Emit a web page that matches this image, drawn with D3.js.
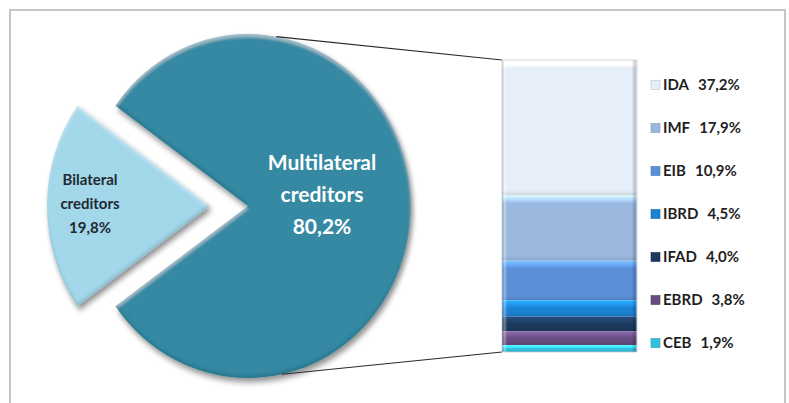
<!DOCTYPE html>
<html>
<head>
<meta charset="utf-8">
<script src="https://cdn.jsdelivr.net/npm/d3@7/dist/d3.min.js"></script>
<style>
  html, body { margin: 0; padding: 0; background: #ffffff; }
  svg { display: block; }
</style>
</head>
<body>
<svg id="chart" width="789" height="403"></svg>
<script>
// ---- data ----
const pieCategories = ["Multilateral creditors", "Bilateral creditors"];
const pieValues = [80.2, 19.8];
const barCategories = ["IDA", "IMF", "EIB", "IBRD", "IFAD", "EBRD", "CEB"];
const barValues = [37.2, 17.9, 10.9, 4.5, 4.0, 3.8, 1.9];

// ---- styles ----
const pieColors = ["#3589a3", "#a3d7ea"];
const barColors = ["#e6eff9", "#9bb9df", "#5b90d9", "#1c82d3", "#1d3a5e", "#664c80", "#33c0de"];

const fmt = v => v.toFixed(1).replace(".", ",") + "%";

const svg = d3.select("#chart");
const defs = svg.append("defs");

// frame
svg.append("rect").attr("x", 10).attr("y", 10).attr("width", 775).attr("height", 420)
  .attr("fill", "none").attr("stroke", "#c6c6c6").attr("stroke-width", 2);

// filters
const ds = defs.append("filter").attr("id", "shadow").attr("x", "-20%").attr("y", "-20%").attr("width", "140%").attr("height", "140%");
ds.append("feGaussianBlur").attr("in", "SourceAlpha").attr("stdDeviation", 3).attr("result", "b");
ds.append("feOffset").attr("in", "b").attr("dx", 2).attr("dy", 4).attr("result", "o");
ds.append("feComponentTransfer").attr("in", "o").attr("result", "o2")
  .append("feFuncA").attr("type", "linear").attr("slope", 0.45);
ds.append("feOffset").attr("in", "SourceAlpha").attr("dx", 0).attr("dy", 3).attr("result", "so");
ds.append("feGaussianBlur").attr("in", "so").attr("stdDeviation", 1.5).attr("result", "sob");
ds.append("feComposite").attr("in", "SourceAlpha").attr("in2", "sob").attr("operator", "out").attr("result", "rim");
ds.append("feFlood").attr("flood-color", "#ffffff").attr("flood-opacity", 0.35).attr("result", "wf");
ds.append("feComposite").attr("in", "wf").attr("in2", "rim").attr("operator", "in").attr("result", "hl");
ds.append("feOffset").attr("in", "SourceAlpha").attr("dx", 0).attr("dy", -3).attr("result", "so2");
ds.append("feGaussianBlur").attr("in", "so2").attr("stdDeviation", 1.5).attr("result", "sob2");
ds.append("feComposite").attr("in", "SourceAlpha").attr("in2", "sob2").attr("operator", "out").attr("result", "rim2");
ds.append("feFlood").attr("flood-color", "#000000").attr("flood-opacity", 0.25).attr("result", "bf");
ds.append("feComposite").attr("in", "bf").attr("in2", "rim2").attr("operator", "in").attr("result", "dk");
const m = ds.append("feMerge");
m.append("feMergeNode").attr("in", "o2");
m.append("feMergeNode").attr("in", "SourceGraphic");
m.append("feMergeNode").attr("in", "hl");
m.append("feMergeNode").attr("in", "dk");

// ---- pie ----
const cx = 248, cy = 206, ry = 172, rx = 163, explode = 38;
const halfBil = Math.PI * pieValues[1] / 100;
const pie = d3.pie().sort(null).value(d => d)
  .startAngle(-Math.PI / 2 + halfBil).endAngle(-Math.PI / 2 + halfBil + 2 * Math.PI);
const arcs = pie(pieValues);
const arc = d3.arc().innerRadius(0).outerRadius(ry);

arcs.forEach((a, i) => {
  const mid = (a.startAngle + a.endAngle) / 2;
  const off = i === 1 ? explode : 0;
  const dx = off * Math.sin(mid), dy = -off * Math.cos(mid);
  svg.append("path")
    .attr("d", arc(a))
    .attr("transform", `translate(${cx + dx},${cy + dy}) scale(${rx / ry},1)`)
    .attr("fill", pieColors[i])
    .attr("filter", "url(#shadow)");
});

// pie labels
const multiLines = ["Multilateral", "creditors", fmt(pieValues[0])];
const bilLines = ["Bilateral", "creditors", fmt(pieValues[1])];
svg.append("g").selectAll("text").data(multiLines).join("text")
  .attr("x", 322).attr("y", (d, i) => 170 + i * 32)
  .attr("text-anchor", "middle")
  .attr("font-family", "Lato, 'Open Sans', sans-serif").attr("font-weight", 700).attr("font-size", 21)
  .attr("fill", "#ffffff").text(d => d);
svg.append("g").selectAll("text").data(bilLines).join("text")
  .attr("x", 90).attr("y", (d, i) => 185 + i * 24)
  .attr("text-anchor", "middle")
  .attr("font-family", "Lato, 'Open Sans', sans-serif").attr("font-weight", 700).attr("font-size", 15)
  .attr("fill", "#1e2a30").text(d => d);

// ---- bar ----
const barX0 = 502, barX1 = 637;
const total = d3.sum(barValues);
const y = d3.scaleLinear().domain([0, total]).range([60, 352]);
let cum = 0;
const segs = barValues.map((v, i) => { const s = { i, v, y0: cum, y1: cum + v }; cum += v; return s; });

// connector lines
const tTop = 10 * Math.PI / 180, tBot = 168 * Math.PI / 180;
[[tTop, y(0)], [tBot, y(total)]].forEach(([t, by]) => {
  svg.append("line")
    .attr("x1", cx + rx * Math.sin(t)).attr("y1", cy - ry * Math.cos(t))
    .attr("x2", barX0).attr("y2", by)
    .attr("stroke", "#2a2a2a").attr("stroke-width", 1.2);
});

segs.forEach(s => {
  const base = d3.color(barColors[s.i]);
  const top = y(s.y0), bot = y(s.y1), h = bot - top;
  const band = Math.min(0.45, 5 / h);
  const g = defs.append("linearGradient").attr("id", "bg" + s.i)
    .attr("gradientUnits", "userSpaceOnUse").attr("x1", 0).attr("y1", top).attr("x2", 0).attr("y2", bot);
  g.append("stop").attr("offset", 0).attr("stop-color", base.brighter(0.9));
  g.append("stop").attr("offset", band).attr("stop-color", base.brighter(0.35));
  g.append("stop").attr("offset", Math.min(0.5, band * 1.6)).attr("stop-color", base);
  g.append("stop").attr("offset", Math.max(0.55, 1 - band)).attr("stop-color", base);
  g.append("stop").attr("offset", 1).attr("stop-color", base.darker(0.35));
});
const sg = defs.append("linearGradient").attr("id", "side").attr("x1", 0).attr("y1", 0).attr("x2", 1).attr("y2", 0);
sg.append("stop").attr("offset", "0%").attr("stop-color", "#000000").attr("stop-opacity", 0.12);
sg.append("stop").attr("offset", "1.5%").attr("stop-color", "#ffffff").attr("stop-opacity", 0.4);
sg.append("stop").attr("offset", "4%").attr("stop-color", "#ffffff").attr("stop-opacity", 0);
sg.append("stop").attr("offset", "96%").attr("stop-color", "#000000").attr("stop-opacity", 0);
sg.append("stop").attr("offset", "98.5%").attr("stop-color", "#000000").attr("stop-opacity", 0.2);
sg.append("stop").attr("offset", "100%").attr("stop-color", "#ffffff").attr("stop-opacity", 0.3);

const bar = svg.append("g");
bar.selectAll("rect.seg").data(segs).join("rect").attr("class", "seg")
  .attr("x", barX0).attr("width", barX1 - barX0)
  .attr("y", d => y(d.y0)).attr("height", d => y(d.y1) - y(d.y0))
  .attr("fill", d => `url(#bg${d.i})`);
bar.selectAll("rect.side").data(segs).join("rect").attr("class", "side")
  .attr("x", barX0).attr("width", barX1 - barX0)
  .attr("y", d => y(d.y0)).attr("height", d => y(d.y1) - y(d.y0))
  .attr("fill", "url(#side)");
bar.append("rect").attr("x", barX0).attr("y", y(0)).attr("width", barX1 - barX0).attr("height", y(total) - y(0))
  .attr("fill", "none").attr("stroke", "#c4ccd6").attr("stroke-width", 0.8);

// ---- legend ----
const lg = svg.append("g");
const rows = lg.selectAll("g").data(barCategories).join("g")
  .attr("transform", (d, i) => `translate(651,${85 + i * 43})`);
rows.append("rect").attr("x", 0).attr("y", -4.5).attr("width", 9).attr("height", 9)
  .attr("fill", (d, i) => barColors[i]).attr("stroke", (d, i) => d3.color(barColors[i]).darker(0.6)).attr("stroke-width", 0.6);
const txt = rows.append("text").attr("x", 12).attr("y", 5)
  .attr("font-family", "Lato, 'Open Sans', sans-serif").attr("font-weight", 700).attr("font-size", 15)
  .attr("fill", "#1f1f1f");
txt.append("tspan").text(d => d);
txt.append("tspan").attr("dx", 9).text((d, i) => fmt(barValues[i]));
</script>
</body>
</html>
